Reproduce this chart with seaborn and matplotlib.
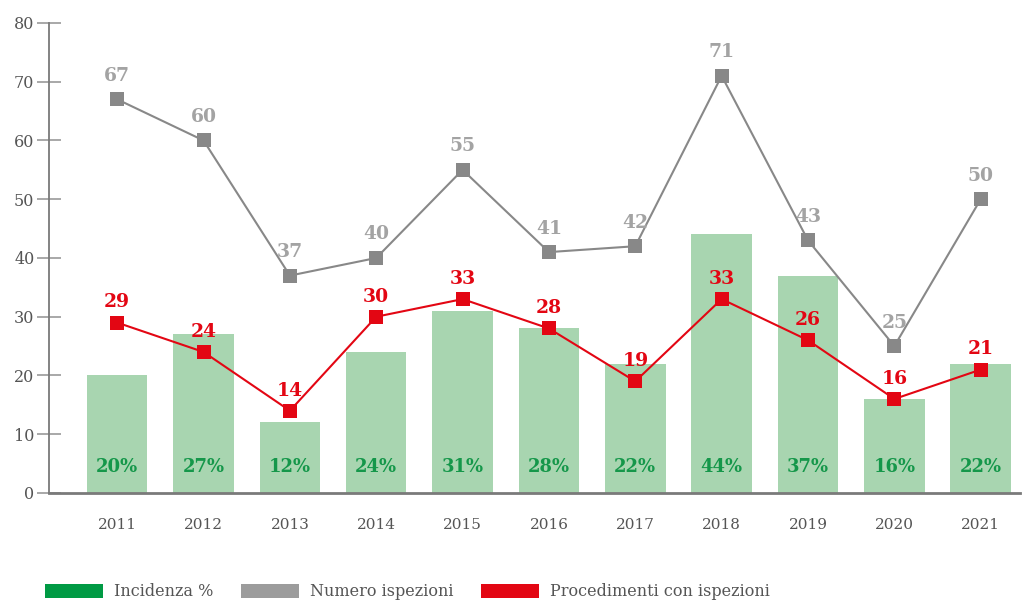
import matplotlib
matplotlib.use("Agg")
import matplotlib.pyplot as plt
from matplotlib.patches import Patch
import seaborn as sns
import pandas as pd

years = ["2011", "2012", "2013", "2014", "2015", "2016", "2017", "2018", "2019", "2020", "2021"]
incidenza = [20, 27, 12, 24, 31, 28, 22, 44, 37, 16, 22]
numero_ispezioni = [67, 60, 37, 40, 55, 41, 42, 71, 43, 25, 50]
procedimenti = [29, 24, 14, 30, 33, 28, 19, 33, 26, 16, 21]
y_ticks = [0, 10, 20, 30, 40, 50, 60, 70, 80]

BAR_COLOR = "#a8d5b0"
PCT_COLOR = "#15974a"
GREY_LINE = "#888888"
GREY_TEXT = "#a3a3a3"
RED = "#e30613"
AXIS = "#7a7a7a"
TICK_TEXT = "#555555"

sns.set_theme(style="white")
plt.rcParams["font.family"] = ["DejaVu Serif", "DejaVu Sans"]

fig = plt.figure(figsize=(10.33, 6.04), dpi=100)
ax = fig.add_axes([0.0474, 0.1838, 0.9396, 0.7782])

df = pd.DataFrame({"anno": years, "incidenza": incidenza})
sns.barplot(data=df, x="anno", y="incidenza", color=BAR_COLOR, width=0.7,
            saturation=1, linewidth=0, edgecolor="none", ax=ax, zorder=1)

pos = list(range(len(years)))
sns.lineplot(x=pos, y=numero_ispezioni, color=GREY_LINE, linewidth=1.5,
             marker="s", markersize=9.5, markeredgewidth=0, ax=ax, zorder=3)
sns.lineplot(x=pos, y=procedimenti, color=RED, linewidth=1.5,
             marker="s", markersize=9.5, markeredgewidth=0, ax=ax, zorder=4)

for i in pos:
    ax.annotate(str(numero_ispezioni[i]), (i, numero_ispezioni[i]),
                xytext=(0, 10.5), textcoords="offset points", ha="center",
                va="bottom", fontsize=13.5, fontweight="bold", color=GREY_TEXT,
                zorder=5)
    ax.annotate(str(procedimenti[i]), (i, procedimenti[i]),
                xytext=(0, 8), textcoords="offset points", ha="center",
                va="bottom", fontsize=13.5, fontweight="bold", color=RED,
                zorder=5)
    ax.text(i, 4.4, f"{incidenza[i]}%", ha="center", va="center",
            fontsize=13, fontweight="bold", color=PCT_COLOR, zorder=5)

ax.set_xlim(-0.79, 10.45)
ax.set_ylim(0, 80)
ax.set_yticks(y_ticks)
ax.set_xlabel("")
ax.set_ylabel("")

for side in ("top", "right"):
    ax.spines[side].set_visible(False)
ax.spines["left"].set_color(AXIS)
ax.spines["left"].set_linewidth(1.3)
ax.spines["bottom"].set_color(AXIS)
ax.spines["bottom"].set_linewidth(2)

ax.tick_params(axis="y", direction="inout", length=17, width=1.2,
               color="#9a9a9a", labelsize=11.5, labelcolor=TICK_TEXT, pad=2,
               left=True)
ax.tick_params(axis="x", length=0, labelsize=11, labelcolor=TICK_TEXT, pad=18)

handles = [
    Patch(facecolor="#009a44", edgecolor="none", label="Incidenza %"),
    Patch(facecolor="#9c9c9c", edgecolor="none", label="Numero ispezioni"),
    Patch(facecolor=RED, edgecolor="none", label="Procedimenti con ispezioni"),
]
leg = fig.legend(handles=handles, loc="center left", bbox_to_anchor=(0.0436, 0.02),
                 ncol=3, frameon=False, fontsize=11.5, handlelength=3.6,
                 handleheight=1.05, handletextpad=0.7, columnspacing=1.75,
                 borderpad=0, borderaxespad=0)
for t in leg.get_texts():
    t.set_color(TICK_TEXT)

fig.savefig("out.png", dpi=100)
